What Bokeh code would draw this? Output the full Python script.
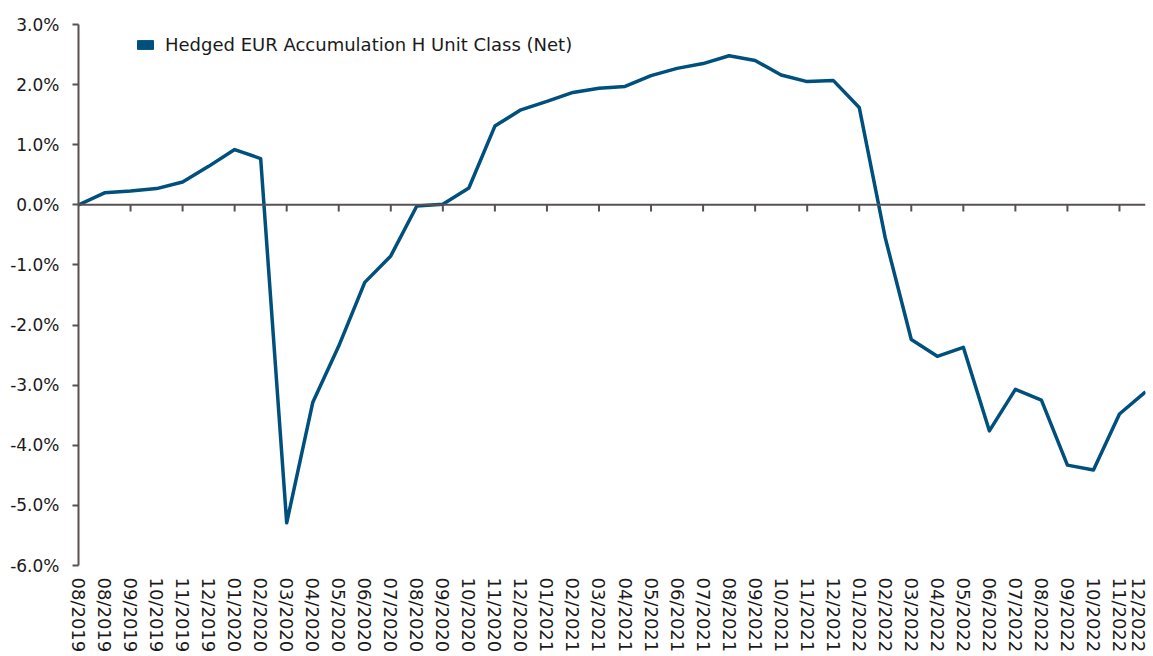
from bokeh.plotting import figure
from bokeh.models import (Range1d, LinearAxis, FixedTicker, PrintfTickFormatter,
                          Span, Legend, LegendItem)
from bokeh.embed import file_html
from bokeh.resources import INLINE

labels = ["08/2019", "08/2019", "09/2019", "10/2019", "11/2019", "12/2019",
          "01/2020", "02/2020", "03/2020", "04/2020", "05/2020", "06/2020",
          "07/2020", "08/2020", "09/2020", "10/2020", "11/2020", "12/2020",
          "01/2021", "02/2021", "03/2021", "04/2021", "05/2021", "06/2021",
          "07/2021", "08/2021", "09/2021", "10/2021", "11/2021", "12/2021",
          "01/2022", "02/2022", "03/2022", "04/2022", "05/2022", "06/2022",
          "07/2022", "08/2022", "09/2022", "10/2022", "11/2022", "12/2022"]
values = [0.00, 0.20, 0.23, 0.27, 0.38, 0.64, 0.92, 0.77, -5.29, -3.29,
          -2.35, -1.29, -0.85, -0.02, 0.01, 0.28, 1.31, 1.58, 1.72, 1.87,
          1.94, 1.97, 2.15, 2.27, 2.35, 2.48, 2.40, 2.16, 2.05, 2.07,
          1.62, -0.55, -2.24, -2.52, -2.37, -3.76, -3.07, -3.25, -4.33, -4.41,
          -3.48, -3.11]
series_name = "Hedged EUR Accumulation H Unit Class (Net)"
y_ticks = [-6, -5, -4, -3, -2, -1, 0, 1, 2, 3]

FONT = "DejaVu Sans"
AXIS = "#595050"
LINE = "#00507d"

xs = list(range(len(labels)))

p = figure(width=1148, height=656, output_backend="svg", toolbar_location=None,
           x_range=Range1d(0, len(labels) - 1), y_range=Range1d(-6, 3),
           x_axis_location=None, y_axis_location=None,
           min_border_left=78, min_border_right=3, min_border_top=24,
           min_border_bottom=91)
p.outline_line_color = None
p.grid.visible = False
p.background_fill_color = "white"
p.border_fill_color = "white"

# y axis
yax = LinearAxis(ticker=FixedTicker(ticks=y_ticks),
                 formatter=PrintfTickFormatter(format="%.1f%%"))
yax.axis_line_color = AXIS
yax.axis_line_width = 2
yax.major_tick_line_color = AXIS
yax.major_tick_line_width = 2
yax.major_tick_out = 6
yax.major_tick_in = 0
yax.minor_tick_line_color = None
yax.major_label_text_font = FONT
yax.major_label_text_font_size = "17px"
yax.major_label_text_color = "#1a1a1a"
yax.major_label_standoff = 13
p.add_layout(yax, "left")

# x axis (labels only)
xax = LinearAxis(ticker=FixedTicker(ticks=xs),
                 major_label_overrides={i: l for i, l in enumerate(labels)})
xax.axis_line_color = None
xax.major_tick_line_color = None
xax.minor_tick_line_color = None
xax.major_tick_out = 0
xax.major_tick_in = 0
xax.major_label_orientation = "vertical"
xax.major_label_text_font = FONT
xax.major_label_text_font_size = "18px"
xax.major_label_text_color = "#1a1a1a"
xax.major_label_standoff = 12
p.add_layout(xax, "below")

# zero line with ticks
p.add_layout(Span(location=0, dimension="width", line_color=AXIS, line_width=2))
tick_x = xs[2::2]
p.segment(x0=tick_x, y0=[0] * len(tick_x), x1=tick_x, y1=[-0.11] * len(tick_x),
          line_color=AXIS, line_width=2)

r = p.line(xs, values, line_color=LINE, line_width=3.5, line_join="round")

nan = float("nan")
swatch = p.rect(x=[nan], y=[nan], width=1, height=1, fill_color=LINE,
                line_color=LINE)
legend = Legend(items=[LegendItem(label=series_name, renderers=[swatch])],
                location=(57, 510), border_line_color=None,
                background_fill_alpha=0, padding=0, margin=0,
                glyph_width=20, glyph_height=11, label_standoff=10,
                label_text_font=FONT, label_text_font_size="18px",
                label_text_color="#1a1a1a")
p.add_layout(legend, "center")

open("out.html", "w").write(file_html(p, INLINE))
